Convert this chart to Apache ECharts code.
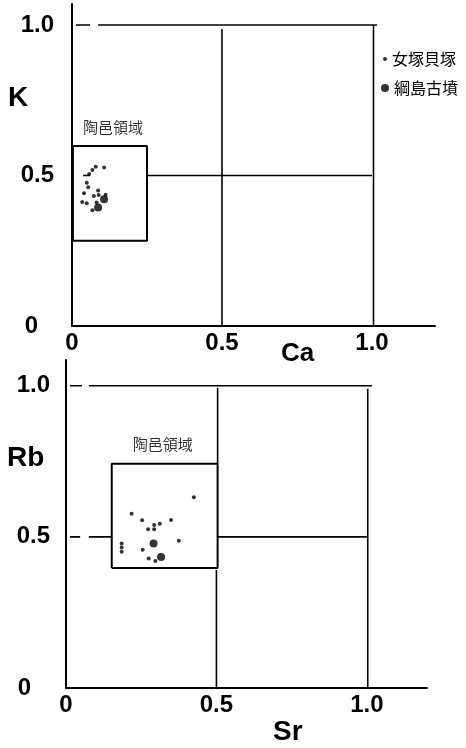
<!DOCTYPE html>
<html>
<head>
<meta charset="utf-8">
<script src="https://cdn.jsdelivr.net/npm/echarts@6/dist/echarts.min.js"></script>
<style>
  html, body { margin: 0; padding: 0; background: #fff; }
  #chart { width: 466px; height: 748px; }
</style>
</head>
<body>
<div id="chart"></div>
<script>
// Ca–K plot: 女塚貝塚 (small dots) and 綱島古墳 (large dots)
const caK_meizuka = [
  [0.079, 0.529], [0.107, 0.527], [0.068, 0.518], [0.057, 0.505],
  [0.049, 0.476], [0.054, 0.461], [0.087, 0.450], [0.040, 0.441],
  [0.073, 0.432], [0.089, 0.435], [0.112, 0.436], [0.034, 0.412],
  [0.049, 0.408], [0.082, 0.410], [0.068, 0.385]
];
const caK_tsunashima = [[0.107, 0.421], [0.087, 0.394]];

// Sr–Rb plot
const srRb_meizuka = [
  [0.425, 0.631], [0.218, 0.576], [0.253, 0.555], [0.349, 0.556],
  [0.312, 0.543], [0.293, 0.539], [0.293, 0.525], [0.273, 0.525],
  [0.375, 0.487], [0.185, 0.478], [0.185, 0.465], [0.185, 0.451],
  [0.255, 0.457], [0.275, 0.428], [0.297, 0.420]
];
const srRb_tsunashima = [[0.291, 0.478], [0.316, 0.433]];

// 陶邑領域 (Sue ware kiln region) boxes: [xMin, yMin, xMax, yMax]
const caK_region = [0.003, 0.283, 0.25, 0.598];
const srRb_region = [0.152, 0.397, 0.504, 0.742];
const regionName = '陶邑領域';
const caK_regionLabelAt = [0.137, 0.661];
const srRb_regionLabelAt = [0.322, 0.805];

// Reference frame segments [[x1,y1],[x2,y2]]
const caK_frame = [
  [[0.013, 1.0], [0.06, 1.0]],
  [[0.087, 1.0], [1.017, 1.0]],
  [[0.037, 0.5], [0.06, 0.5]],
  [[0.25, 0.5], [1.0, 0.5]],
  [[0.5, 0.0], [0.5, 0.987]],
  [[1.005, 0.0], [1.005, 1.0]]
];
const srRb_frame = [
  [[0.013, 1.0], [0.053, 1.0]],
  [[0.076, 1.0], [1.017, 1.0]],
  [[0.013, 0.5], [0.047, 0.5]],
  [[0.076, 0.5], [0.152, 0.5]],
  [[0.504, 0.5], [1.0, 0.5]],
  [[0.5, 0.0], [0.5, 0.39]],
  [[0.504, 0.742], [0.504, 0.993]],
  [[1.003, 0.0], [1.003, 0.99]]
];

// Tick labels
const tickLabels = { 0: '0', 0.5: '0.5', 1: '1.0' };
const seriesNames = ['女塚貝塚', '綱島古墳'];

const numFont = 'Liberation Sans';
const jpFont = 'Noto Sans CJK JP';
const numSize = 24;

function boxPath(b) {
  return [[b[0], b[1]], [b[2], b[1]], [b[2], b[3]], [b[0], b[3]], [b[0], b[1]]];
}

function lineSeries(points, idx, width) {
  return {
    type: 'line', data: points, xAxisIndex: idx, yAxisIndex: idx,
    showSymbol: false, symbol: 'none', silent: true, animation: false,
    lineStyle: { color: '#000', width: width }, z: 2
  };
}

function xLabel(v) { return tickLabels[v] !== undefined ? tickLabels[v] : ''; }
function yLabel(v) {
  if (v === 0) return '{z|0}';
  return tickLabels[v] !== undefined ? tickLabels[v] : '';
}

function makeXAxis(idx, max) {
  return {
    gridIndex: idx, type: 'value', min: 0, max: max, interval: 0.5,
    splitLine: { show: false }, axisTick: { show: false },
    axisLine: { lineStyle: { color: '#000', width: 2 } },
    axisLabel: {
      formatter: xLabel, color: '#000', fontFamily: numFont, fontWeight: 'bold',
      fontSize: numSize, margin: 5, showMaxLabel: false
    }
  };
}
function makeYAxis(idx, max, zeroPad, margin) {
  return {
    gridIndex: idx, type: 'value', min: 0, max: max, interval: 0.5,
    splitLine: { show: false }, axisTick: { show: false },
    axisLine: { lineStyle: { color: '#000', width: 2 } },
    axisLabel: {
      formatter: yLabel, color: '#000', fontFamily: numFont, fontWeight: 'bold',
      fontSize: numSize, margin: margin, showMaxLabel: false,
      rich: { z: { fontFamily: numFont, fontWeight: 'bold', fontSize: numSize, color: '#000', padding: [0, zeroPad, 0, 0] } }
    }
  };
}

function regionLabel(pos, idx) {
  return {
    type: 'scatter', data: [pos], xAxisIndex: idx, yAxisIndex: idx,
    symbolSize: 0, silent: true, animation: false,
    label: {
      show: true, position: 'inside', formatter: regionName,
      fontFamily: jpFont, fontSize: 15, color: '#000'
    }
  };
}

function dotSeries(name, data, idx, size) {
  return {
    name: name, type: 'scatter', data: data, xAxisIndex: idx, yAxisIndex: idx,
    symbol: 'circle', symbolSize: size, itemStyle: { color: '#000' },
    animation: false, z: 5
  };
}

const series = [];
caK_frame.forEach(s => series.push(lineSeries(s, 0, 1.6)));
srRb_frame.forEach(s => series.push(lineSeries(s, 1, 1.6)));
series.push(lineSeries(boxPath(caK_region), 0, 2));
series.push(lineSeries(boxPath(srRb_region), 1, 2));
series.push(regionLabel(caK_regionLabelAt, 0));
series.push(regionLabel(srRb_regionLabelAt, 1));
series.push(dotSeries(seriesNames[0], caK_meizuka, 0, 4));
series.push(dotSeries(seriesNames[1], caK_tsunashima, 0, 8));
series.push(dotSeries(seriesNames[0], srRb_meizuka, 1, 4));
series.push(dotSeries(seriesNames[1], srRb_tsunashima, 1, 8));

const axisTitle = (text, x, y, size) => ({
  type: 'text', left: x, top: y,
  style: { text: text, font: 'bold ' + size + 'px "' + numFont + '"', fill: '#000' }
});

const chart = echarts.init(document.getElementById('chart'), null, { renderer: 'canvas' });
chart.setOption({
  animation: false,
  backgroundColor: '#fff',
  grid: [
    { left: 72, top: 4, width: 363, height: 322 },
    { left: 66, top: 360, width: 361, height: 328 }
  ],
  xAxis: [makeXAxis(0, 1.21), makeXAxis(1, 1.2)],
  yAxis: [makeYAxis(0, 1.07, 16, 18), makeYAxis(1, 1.085, 19, 16)],
  legend: [
    {
      data: [seriesNames[0]], left: 383, top: 51, padding: 0, itemGap: 0,
      itemWidth: 4, itemHeight: 4, icon: 'circle',
      textStyle: { fontFamily: jpFont, fontSize: 16, color: '#000' }
    },
    {
      data: [seriesNames[1]], left: 381, top: 80, padding: 0, itemGap: 0,
      itemWidth: 8, itemHeight: 8, icon: 'circle',
      textStyle: { fontFamily: jpFont, fontSize: 16, color: '#000' }
    }
  ],
  graphic: [
    axisTitle('K', 8, 84, 28),
    axisTitle('Ca', 281, 341, 26),
    axisTitle('Rb', 7, 444, 28),
    axisTitle('Sr', 273, 718, 28)
  ],
  series: series
});
</script>
</body>
</html>
